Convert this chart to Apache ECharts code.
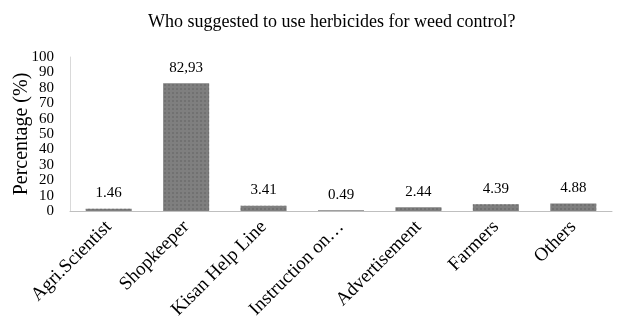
<!DOCTYPE html>
<html>
<head>
<meta charset="utf-8">
<script src="https://cdn.jsdelivr.net/npm/echarts@6/dist/echarts.min.js"></script>
<style>
  html, body { margin: 0; padding: 0; background: #fff; }
  #chart { width: 626px; height: 317px; }
</style>
</head>
<body>
<div id="chart"></div>
<script>
var categories = ['Agri.Scientist', 'Shopkeeper', 'Kisan Help Line', 'Instruction on\u2026', 'Advertisement', 'Farmers', 'Others'];
var values = [1.46, 82.93, 3.41, 0.49, 2.44, 4.39, 4.88];
var valueLabels = ['1.46', '82,93', '3.41', '0.49', '2.44', '4.39', '4.88'];

var chart = echarts.init(document.getElementById('chart'));
var font = 'Liberation Serif';

var option = {
  animation: false,
  title: {
    text: 'Who suggested to use herbicides for weed control?',
    left: 143,
    top: 8,
    textStyle: { fontFamily: font, fontWeight: 'normal', fontSize: 18, color: '#000' }
  },
  // y axis title placed by hand, the axis name ignored nameGap here
  graphic: [{
    type: 'text',
    x: 22,
    y: 134,
    rotation: Math.PI / 2,
    style: {
      text: 'Percentage (%)',
      font: '20px "Liberation Serif"',
      fill: '#000',
      textAlign: 'center',
      textVerticalAlign: 'middle'
    }
  }],
  grid: { left: 70, right: 14, top: 57, bottom: 106, containLabel: false, outerBoundsMode: 'none' },
  xAxis: {
    type: 'category',
    data: categories,
    axisLine: { lineStyle: { color: '#bfbfbf' } },
    axisTick: { show: false },
    axisLabel: {
      rotate: 45,
      interval: 0,
      margin: 13,
      fontFamily: font,
      fontSize: 19,
      color: '#000'
    }
  },
  yAxis: {
    type: 'value',
    min: 0,
    max: 100,
    interval: 10,
    axisLine: { show: true, lineStyle: { color: '#d9d9d9' } },
    axisTick: { show: false },
    splitLine: { show: false },
    axisLabel: {
      fontFamily: font, fontSize: 15, color: '#000', margin: 16,
      showMinLabel: true, showMaxLabel: true, hideOverlap: false
    }
  },
  series: [{
    type: 'bar',
    data: values,
    barWidth: 46,
    itemStyle: {
      color: '#7f7f7f',
      decal: {
        symbol: 'rect',
        symbolSize: 1,
        dashArrayX: [2, 2],
        dashArrayY: [2, 2],
        color: 'rgba(100,100,100,0.5)'
      }
    },
    label: {
      show: true,
      position: 'top',
      distance: 8,
      fontFamily: font,
      fontSize: 15,
      color: '#000',
      formatter: function(p) { return valueLabels[p.dataIndex]; }
    }
  }]
};
chart.setOption(option);
</script>
</body>
</html>
